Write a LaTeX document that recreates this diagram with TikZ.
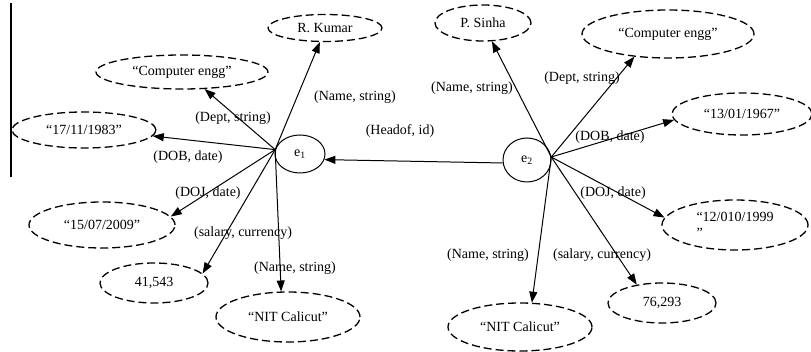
\documentclass[tikz,border=0pt]{standalone}
\usepackage{fontspec}
\setmainfont{Liberation Serif}
\usetikzlibrary{shapes.geometric,arrows.meta}
\begin{document}
\begin{tikzpicture}[x=1pt,y=-1pt,
  val/.style={draw, dash pattern=on 8pt off 4pt, line width=1.3pt, ellipse, inner sep=0pt},
  ent/.style={draw, ellipse, line width=1pt, inner sep=0pt},
  lab/.style={inner sep=0pt},
  rel/.style={line width=1pt, -{Triangle[length=11pt,width=8pt]}},
  font=\fontsize{14}{16}\selectfont]
\useasboundingbox (0,0) rectangle (811,352);
\coordinate (lt) at (11,3);
\coordinate (lb) at (11,177);
\draw[line width=1.2pt] (lt) -- (lb);
% entities
\node[ent, minimum width=50pt, minimum height=38pt] (e1) at (300,154) {e\textsubscript{1}};
\node[ent, minimum width=48pt, minimum height=44pt] (e2) at (527,160) {e\textsubscript{2}};
% left values
\node[val, minimum width=114pt, minimum height=27pt] (RK) at (325,28) {R. Kumar};
\node[val, minimum width=172pt, minimum height=34pt] (CEL) at (182,72) {“Computer engg”};
\node[val, minimum width=144pt, minimum height=36pt] (D1) at (84,130) {“17/11/1983”};
\node[val, minimum width=146pt, minimum height=46pt] (D2) at (102,225) {“15/07/2009”};
\node[val, minimum width=108pt, minimum height=40pt] (S1) at (154,283) {41,543};
\node[val, minimum width=144pt, minimum height=50pt] (N1) at (288,317) {“NIT Calicut”};
% right values
\node[val, minimum width=96pt, minimum height=36pt] (PS) at (483,23) {P. Sinha};
\node[val, minimum width=172pt, minimum height=48pt] (CER) at (668,34) {“Computer engg”};
\node[val, minimum width=140pt, minimum height=42pt] (D3) at (742,114) {“13/01/1967”};
\node[val, minimum width=146pt, minimum height=50pt, align=left] (D4) at (735,225) {“12/010/1999\\”};
\node[val, minimum width=108pt, minimum height=40pt] (S2) at (662,303) {76,293};
\node[val, minimum width=144pt, minimum height=48pt] (N2) at (520,327) {“NIT Calicut”};
% labels
\node[lab] (l1) at (355,97) {(Name, string)};
\node[lab] (l2) at (233,118) {(Dept, string)};
\node[lab] (l3) at (400,131) {(Headof, id)};
\node[lab] (l4) at (188,157) {(DOB, date)};
\node[lab] (l5) at (208,193) {(DOJ, date)};
\node[lab] (l6) at (243,233) {(salary, currency)};
\node[lab] (l7) at (295,268) {(Name, string)};
\node[lab] (r1) at (472,88) {(Name, string)};
\node[lab] (r2) at (582,78) {(Dept, string)};
\node[lab] (r3) at (610,137) {(DOB, date)};
\node[lab] (r4) at (613,193) {(DOJ, date)};
\node[lab] (r5) at (488,255) {(Name, string)};
\node[lab] (r6) at (602,255) {(salary, currency)};
% connectors
\draw[rel] (e1.170) -- (RK.-110);
\draw[rel] (e1.170) -- (CEL.-37);
\draw[rel] (e1.170) -- (D1.-5);
\draw[rel] (e1.170) -- (D2.7);
\draw[rel] (e1.170) -- (S1.11);
\draw[rel] (e1.170) -- (N1.105);
\draw[rel] (e2.187) -- (e1.-13);
\draw[rel] (e2.7) -- (PS.-64);
\draw[rel] (e2.7) -- (CER.-146);
\draw[rel] (e2.7) -- (D3.185);
\draw[rel] (e2.7) -- (D4.174);
\draw[rel] (e2.7) -- (S2.144);
\draw[rel] (e2.7) -- (N2.64);
\end{tikzpicture}
\end{document}
